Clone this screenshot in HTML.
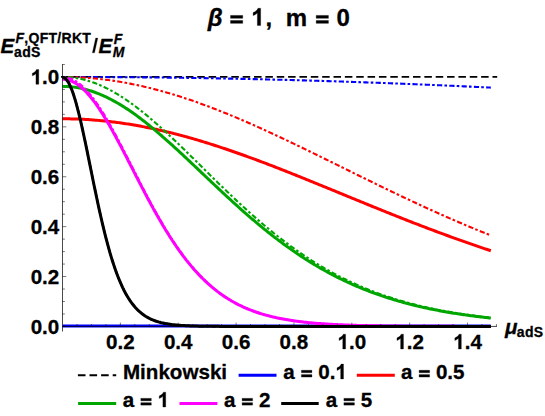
<!DOCTYPE html>
<html><head><meta charset="utf-8">
<style>
html,body{margin:0;padding:0;background:#fff;}
body{width:545px;height:416px;position:relative;overflow:hidden;font-family:"Liberation Sans",sans-serif;}
svg{display:block;}
</style></head><body>
<svg width="545" height="416" viewBox="0 0 545 416" style="position:absolute;left:0;top:0">
<g fill="none" stroke-linecap="butt" stroke-linejoin="round">
<path d="M61.00 76.95 L497.20 76.95" stroke="#000" stroke-width="1.7" stroke-dasharray="7.5 3.855"/>
<path d="M62.50 326.05 L63.93 326.05 L65.36 326.05 L66.80 326.05 L68.23 326.05 L69.66 326.05 L71.09 326.05 L72.53 326.05 L73.96 326.05 L75.39 326.05 L76.82 326.05 L78.26 326.05 L79.69 326.05 L81.12 326.05 L82.55 326.05 L83.99 326.05 L85.42 326.05 L86.85 326.05 L88.28 326.05 L89.72 326.05 L91.15 326.05 L92.58 326.05 L94.01 326.05 L95.45 326.05 L96.88 326.05 L98.31 326.05 L99.74 326.05 L101.18 326.05 L102.61 326.05 L104.04 326.05 L105.47 326.05 L106.91 326.05 L108.34 326.05 L109.77 326.05 L111.20 326.05 L112.64 326.05 L114.07 326.05 L115.50 326.05 L116.93 326.05 L118.37 326.05 L119.80 326.05 L121.23 326.05 L122.66 326.05 L124.10 326.05 L125.53 326.05 L126.96 326.05 L128.39 326.05 L129.83 326.05 L131.26 326.05 L132.69 326.05 L134.12 326.05 L135.56 326.05 L136.99 326.05 L138.42 326.05 L139.85 326.05 L141.29 326.05 L142.72 326.05 L144.15 326.05 L145.58 326.05 L147.02 326.05 L148.45 326.05 L149.88 326.05 L151.31 326.05 L152.75 326.05 L154.18 326.05 L155.61 326.05 L157.04 326.05 L158.48 326.05 L159.91 326.05 L161.34 326.05 L162.77 326.05 L164.21 326.05 L165.64 326.05 L167.07 326.05 L168.50 326.05 L169.94 326.05 L171.37 326.05 L172.80 326.05 L174.23 326.05 L175.67 326.05 L177.10 326.05 L178.53 326.05 L179.96 326.05 L181.40 326.05 L182.83 326.05 L184.26 326.05 L185.69 326.05 L187.12 326.05 L188.56 326.05 L189.99 326.05 L191.42 326.05 L192.85 326.05 L194.29 326.05 L195.72 326.05 L197.15 326.05 L198.58 326.05 L200.02 326.05 L201.45 326.05 L202.88 326.05 L204.31 326.05 L205.75 326.05 L207.18 326.05 L208.61 326.05 L210.04 326.05 L211.48 326.05 L212.91 326.05 L214.34 326.05 L215.77 326.05 L217.21 326.05 L218.64 326.05 L220.07 326.05 L221.50 326.05 L222.94 326.05 L224.37 326.05 L225.80 326.05 L227.23 326.05 L228.67 326.05 L230.10 326.05 L231.53 326.05 L232.96 326.05 L234.40 326.05 L235.83 326.05 L237.26 326.05 L238.69 326.05 L240.13 326.05 L241.56 326.05 L242.99 326.05 L244.42 326.05 L245.86 326.05 L247.29 326.05 L248.72 326.05 L250.15 326.05 L251.59 326.05 L253.02 326.05 L254.45 326.05 L255.88 326.05 L257.32 326.05 L258.75 326.05 L260.18 326.05 L261.61 326.05 L263.05 326.05 L264.48 326.05 L265.91 326.05 L267.34 326.05 L268.78 326.05 L270.21 326.05 L271.64 326.05 L273.07 326.05 L274.51 326.05 L275.94 326.05 L277.37 326.05 L278.80 326.05 L280.24 326.05 L281.67 326.05 L283.10 326.05 L284.53 326.05 L285.97 326.05 L287.40 326.05 L288.83 326.05 L290.26 326.05 L291.70 326.05 L293.13 326.05 L294.56 326.05 L295.99 326.05 L297.43 326.05 L298.86 326.05 L300.29 326.05 L301.72 326.05 L303.16 326.05 L304.59 326.05 L306.02 326.05 L307.45 326.05 L308.88 326.05 L310.32 326.05 L311.75 326.05 L313.18 326.05 L314.61 326.05 L316.05 326.05 L317.48 326.05 L318.91 326.05 L320.34 326.05 L321.78 326.05 L323.21 326.05 L324.64 326.05 L326.07 326.05 L327.51 326.05 L328.94 326.05 L330.37 326.05 L331.80 326.05 L333.24 326.05 L334.67 326.05 L336.10 326.05 L337.53 326.05 L338.97 326.05 L340.40 326.05 L341.83 326.05 L343.26 326.05 L344.70 326.05 L346.13 326.05 L347.56 326.05 L348.99 326.05 L350.43 326.05 L351.86 326.05 L353.29 326.06 L354.72 326.06 L356.16 326.06 L357.59 326.06 L359.02 326.06 L360.45 326.06 L361.89 326.06 L363.32 326.06 L364.75 326.06 L366.18 326.06 L367.62 326.06 L369.05 326.06 L370.48 326.06 L371.91 326.06 L373.35 326.06 L374.78 326.06 L376.21 326.06 L377.64 326.06 L379.08 326.06 L380.51 326.06 L381.94 326.06 L383.37 326.06 L384.81 326.06 L386.24 326.06 L387.67 326.06 L389.10 326.06 L390.54 326.06 L391.97 326.06 L393.40 326.06 L394.83 326.06 L396.27 326.06 L397.70 326.06 L399.13 326.06 L400.56 326.06 L402.00 326.06 L403.43 326.06 L404.86 326.06 L406.29 326.06 L407.73 326.06 L409.16 326.06 L410.59 326.06 L412.02 326.06 L413.46 326.06 L414.89 326.06 L416.32 326.06 L417.75 326.06 L419.19 326.06 L420.62 326.06 L422.05 326.06 L423.48 326.06 L424.92 326.06 L426.35 326.06 L427.78 326.06 L429.21 326.06 L430.64 326.06 L432.08 326.06 L433.51 326.06 L434.94 326.06 L436.37 326.06 L437.81 326.06 L439.24 326.06 L440.67 326.06 L442.10 326.06 L443.54 326.06 L444.97 326.06 L446.40 326.06 L447.83 326.06 L449.27 326.06 L450.70 326.06 L452.13 326.06 L453.56 326.06 L455.00 326.06 L456.43 326.06 L457.86 326.06 L459.29 326.06 L460.73 326.06 L462.16 326.06 L463.59 326.06 L465.02 326.06 L466.46 326.06 L467.89 326.06 L469.32 326.06 L470.75 326.06 L472.19 326.06 L473.62 326.06 L475.05 326.06 L476.48 326.06 L477.92 326.06 L479.35 326.06 L480.78 326.06 L482.21 326.06 L483.65 326.06 L485.08 326.06 L486.51 326.06 L487.94 326.06 L489.38 326.06 L490.81 326.06" stroke="#0000ff" stroke-width="3.0"/>
<path d="M62.50 76.95 L63.93 76.95 L65.36 76.95 L66.80 76.95 L68.23 76.95 L69.66 76.95 L71.09 76.95 L72.53 76.96 L73.96 76.96 L75.39 76.96 L76.82 76.96 L78.26 76.96 L79.69 76.97 L81.12 76.97 L82.55 76.97 L83.99 76.98 L85.42 76.98 L86.85 76.99 L88.28 76.99 L89.72 76.99 L91.15 77.00 L92.58 77.00 L94.01 77.01 L95.45 77.01 L96.88 77.02 L98.31 77.03 L99.74 77.03 L101.18 77.04 L102.61 77.05 L104.04 77.05 L105.47 77.06 L106.91 77.07 L108.34 77.08 L109.77 77.08 L111.20 77.09 L112.64 77.10 L114.07 77.11 L115.50 77.12 L116.93 77.13 L118.37 77.14 L119.80 77.15 L121.23 77.16 L122.66 77.17 L124.10 77.18 L125.53 77.19 L126.96 77.20 L128.39 77.21 L129.83 77.22 L131.26 77.23 L132.69 77.24 L134.12 77.26 L135.56 77.27 L136.99 77.28 L138.42 77.29 L139.85 77.31 L141.29 77.32 L142.72 77.33 L144.15 77.35 L145.58 77.36 L147.02 77.38 L148.45 77.39 L149.88 77.40 L151.31 77.42 L152.75 77.44 L154.18 77.45 L155.61 77.47 L157.04 77.48 L158.48 77.50 L159.91 77.51 L161.34 77.53 L162.77 77.55 L164.21 77.57 L165.64 77.58 L167.07 77.60 L168.50 77.62 L169.94 77.64 L171.37 77.66 L172.80 77.67 L174.23 77.69 L175.67 77.71 L177.10 77.73 L178.53 77.75 L179.96 77.77 L181.40 77.79 L182.83 77.81 L184.26 77.83 L185.69 77.85 L187.12 77.87 L188.56 77.90 L189.99 77.92 L191.42 77.94 L192.85 77.96 L194.29 77.98 L195.72 78.01 L197.15 78.03 L198.58 78.05 L200.02 78.07 L201.45 78.10 L202.88 78.12 L204.31 78.15 L205.75 78.17 L207.18 78.19 L208.61 78.22 L210.04 78.24 L211.48 78.27 L212.91 78.29 L214.34 78.32 L215.77 78.35 L217.21 78.37 L218.64 78.40 L220.07 78.43 L221.50 78.45 L222.94 78.48 L224.37 78.51 L225.80 78.53 L227.23 78.56 L228.67 78.59 L230.10 78.62 L231.53 78.65 L232.96 78.68 L234.40 78.70 L235.83 78.73 L237.26 78.76 L238.69 78.79 L240.13 78.82 L241.56 78.85 L242.99 78.88 L244.42 78.91 L245.86 78.95 L247.29 78.98 L248.72 79.01 L250.15 79.04 L251.59 79.07 L253.02 79.10 L254.45 79.14 L255.88 79.17 L257.32 79.20 L258.75 79.23 L260.18 79.27 L261.61 79.30 L263.05 79.33 L264.48 79.37 L265.91 79.40 L267.34 79.44 L268.78 79.47 L270.21 79.51 L271.64 79.54 L273.07 79.58 L274.51 79.61 L275.94 79.65 L277.37 79.69 L278.80 79.72 L280.24 79.76 L281.67 79.79 L283.10 79.83 L284.53 79.87 L285.97 79.91 L287.40 79.94 L288.83 79.98 L290.26 80.02 L291.70 80.06 L293.13 80.10 L294.56 80.14 L295.99 80.18 L297.43 80.22 L298.86 80.25 L300.29 80.29 L301.72 80.33 L303.16 80.38 L304.59 80.42 L306.02 80.46 L307.45 80.50 L308.88 80.54 L310.32 80.58 L311.75 80.62 L313.18 80.66 L314.61 80.71 L316.05 80.75 L317.48 80.79 L318.91 80.83 L320.34 80.88 L321.78 80.92 L323.21 80.96 L324.64 81.01 L326.07 81.05 L327.51 81.10 L328.94 81.14 L330.37 81.19 L331.80 81.23 L333.24 81.28 L334.67 81.32 L336.10 81.37 L337.53 81.41 L338.97 81.46 L340.40 81.51 L341.83 81.55 L343.26 81.60 L344.70 81.65 L346.13 81.69 L347.56 81.74 L348.99 81.79 L350.43 81.84 L351.86 81.88 L353.29 81.93 L354.72 81.98 L356.16 82.03 L357.59 82.08 L359.02 82.13 L360.45 82.18 L361.89 82.23 L363.32 82.28 L364.75 82.33 L366.18 82.38 L367.62 82.43 L369.05 82.48 L370.48 82.53 L371.91 82.58 L373.35 82.63 L374.78 82.69 L376.21 82.74 L377.64 82.79 L379.08 82.84 L380.51 82.90 L381.94 82.95 L383.37 83.00 L384.81 83.05 L386.24 83.11 L387.67 83.16 L389.10 83.22 L390.54 83.27 L391.97 83.33 L393.40 83.38 L394.83 83.43 L396.27 83.49 L397.70 83.55 L399.13 83.60 L400.56 83.66 L402.00 83.71 L403.43 83.77 L404.86 83.83 L406.29 83.88 L407.73 83.94 L409.16 84.00 L410.59 84.05 L412.02 84.11 L413.46 84.17 L414.89 84.23 L416.32 84.29 L417.75 84.34 L419.19 84.40 L420.62 84.46 L422.05 84.52 L423.48 84.58 L424.92 84.64 L426.35 84.70 L427.78 84.76 L429.21 84.82 L430.64 84.88 L432.08 84.94 L433.51 85.00 L434.94 85.06 L436.37 85.12 L437.81 85.19 L439.24 85.25 L440.67 85.31 L442.10 85.37 L443.54 85.43 L444.97 85.50 L446.40 85.56 L447.83 85.62 L449.27 85.69 L450.70 85.75 L452.13 85.81 L453.56 85.88 L455.00 85.94 L456.43 86.01 L457.86 86.07 L459.29 86.13 L460.73 86.20 L462.16 86.26 L463.59 86.33 L465.02 86.40 L466.46 86.46 L467.89 86.53 L469.32 86.59 L470.75 86.66 L472.19 86.73 L473.62 86.79 L475.05 86.86 L476.48 86.93 L477.92 87.00 L479.35 87.06 L480.78 87.13 L482.21 87.20 L483.65 87.27 L485.08 87.34 L486.51 87.41 L487.94 87.47 L489.38 87.54 L490.81 87.61" stroke="#0000ff" stroke-width="2.1" stroke-dasharray="5.2 2.2 2.6 2.295" stroke-dashoffset="6.5"/>
<path d="M62.50 118.80 L63.93 118.80 L65.36 118.81 L66.80 118.82 L68.23 118.84 L69.66 118.86 L71.09 118.89 L72.53 118.92 L73.96 118.96 L75.39 119.00 L76.82 119.05 L78.26 119.10 L79.69 119.16 L81.12 119.23 L82.55 119.30 L83.99 119.37 L85.42 119.45 L86.85 119.53 L88.28 119.62 L89.72 119.71 L91.15 119.81 L92.58 119.92 L94.01 120.02 L95.45 120.14 L96.88 120.26 L98.31 120.38 L99.74 120.51 L101.18 120.64 L102.61 120.78 L104.04 120.92 L105.47 121.07 L106.91 121.23 L108.34 121.38 L109.77 121.55 L111.20 121.72 L112.64 121.89 L114.07 122.07 L115.50 122.25 L116.93 122.44 L118.37 122.63 L119.80 122.82 L121.23 123.03 L122.66 123.23 L124.10 123.44 L125.53 123.66 L126.96 123.88 L128.39 124.10 L129.83 124.33 L131.26 124.57 L132.69 124.81 L134.12 125.05 L135.56 125.30 L136.99 125.55 L138.42 125.81 L139.85 126.07 L141.29 126.33 L142.72 126.60 L144.15 126.88 L145.58 127.16 L147.02 127.44 L148.45 127.73 L149.88 128.02 L151.31 128.32 L152.75 128.62 L154.18 128.92 L155.61 129.23 L157.04 129.55 L158.48 129.87 L159.91 130.19 L161.34 130.51 L162.77 130.84 L164.21 131.18 L165.64 131.52 L167.07 131.86 L168.50 132.21 L169.94 132.56 L171.37 132.91 L172.80 133.27 L174.23 133.63 L175.67 134.00 L177.10 134.37 L178.53 134.74 L179.96 135.12 L181.40 135.50 L182.83 135.89 L184.26 136.27 L185.69 136.67 L187.12 137.06 L188.56 137.46 L189.99 137.87 L191.42 138.27 L192.85 138.68 L194.29 139.10 L195.72 139.51 L197.15 139.93 L198.58 140.36 L200.02 140.79 L201.45 141.22 L202.88 141.65 L204.31 142.09 L205.75 142.53 L207.18 142.97 L208.61 143.42 L210.04 143.87 L211.48 144.32 L212.91 144.78 L214.34 145.24 L215.77 145.70 L217.21 146.16 L218.64 146.63 L220.07 147.10 L221.50 147.57 L222.94 148.05 L224.37 148.53 L225.80 149.01 L227.23 149.50 L228.67 149.98 L230.10 150.47 L231.53 150.97 L232.96 151.46 L234.40 151.96 L235.83 152.46 L237.26 152.96 L238.69 153.47 L240.13 153.97 L241.56 154.48 L242.99 154.99 L244.42 155.51 L245.86 156.02 L247.29 156.54 L248.72 157.06 L250.15 157.59 L251.59 158.11 L253.02 158.64 L254.45 159.17 L255.88 159.70 L257.32 160.23 L258.75 160.77 L260.18 161.31 L261.61 161.84 L263.05 162.39 L264.48 162.93 L265.91 163.47 L267.34 164.02 L268.78 164.57 L270.21 165.12 L271.64 165.67 L273.07 166.22 L274.51 166.77 L275.94 167.33 L277.37 167.89 L278.80 168.44 L280.24 169.00 L281.67 169.56 L283.10 170.13 L284.53 170.69 L285.97 171.26 L287.40 171.82 L288.83 172.39 L290.26 172.96 L291.70 173.53 L293.13 174.10 L294.56 174.67 L295.99 175.24 L297.43 175.82 L298.86 176.39 L300.29 176.97 L301.72 177.55 L303.16 178.12 L304.59 178.70 L306.02 179.28 L307.45 179.86 L308.88 180.44 L310.32 181.02 L311.75 181.60 L313.18 182.19 L314.61 182.77 L316.05 183.35 L317.48 183.94 L318.91 184.52 L320.34 185.11 L321.78 185.69 L323.21 186.28 L324.64 186.87 L326.07 187.45 L327.51 188.04 L328.94 188.63 L330.37 189.22 L331.80 189.80 L333.24 190.39 L334.67 190.98 L336.10 191.57 L337.53 192.16 L338.97 192.75 L340.40 193.33 L341.83 193.92 L343.26 194.51 L344.70 195.10 L346.13 195.69 L347.56 196.28 L348.99 196.86 L350.43 197.45 L351.86 198.04 L353.29 198.63 L354.72 199.22 L356.16 199.80 L357.59 200.39 L359.02 200.98 L360.45 201.56 L361.89 202.15 L363.32 202.73 L364.75 203.32 L366.18 203.90 L367.62 204.49 L369.05 205.07 L370.48 205.65 L371.91 206.24 L373.35 206.82 L374.78 207.40 L376.21 207.98 L377.64 208.56 L379.08 209.14 L380.51 209.72 L381.94 210.30 L383.37 210.87 L384.81 211.45 L386.24 212.02 L387.67 212.60 L389.10 213.17 L390.54 213.75 L391.97 214.32 L393.40 214.89 L394.83 215.46 L396.27 216.03 L397.70 216.60 L399.13 217.17 L400.56 217.73 L402.00 218.30 L403.43 218.86 L404.86 219.43 L406.29 219.99 L407.73 220.55 L409.16 221.11 L410.59 221.67 L412.02 222.23 L413.46 222.78 L414.89 223.34 L416.32 223.89 L417.75 224.45 L419.19 225.00 L420.62 225.55 L422.05 226.10 L423.48 226.65 L424.92 227.19 L426.35 227.74 L427.78 228.28 L429.21 228.83 L430.64 229.37 L432.08 229.91 L433.51 230.45 L434.94 230.98 L436.37 231.52 L437.81 232.05 L439.24 232.59 L440.67 233.12 L442.10 233.65 L443.54 234.17 L444.97 234.70 L446.40 235.23 L447.83 235.75 L449.27 236.27 L450.70 236.79 L452.13 237.31 L453.56 237.83 L455.00 238.35 L456.43 238.86 L457.86 239.37 L459.29 239.88 L460.73 240.39 L462.16 240.90 L463.59 241.41 L465.02 241.91 L466.46 242.42 L467.89 242.92 L469.32 243.42 L470.75 243.91 L472.19 244.41 L473.62 244.90 L475.05 245.40 L476.48 245.89 L477.92 246.38 L479.35 246.86 L480.78 247.35 L482.21 247.83 L483.65 248.32 L485.08 248.80 L486.51 249.27 L487.94 249.75 L489.38 250.23 L490.81 250.70" stroke="#ff0000" stroke-width="3.0"/>
<path d="M62.50 76.95 L63.93 76.95 L65.36 76.96 L66.80 76.98 L68.23 77.00 L69.66 77.03 L71.09 77.06 L72.53 77.10 L73.96 77.15 L75.39 77.20 L76.82 77.26 L78.26 77.32 L79.69 77.39 L81.12 77.47 L82.55 77.55 L83.99 77.64 L85.42 77.73 L86.85 77.83 L88.28 77.94 L89.72 78.05 L91.15 78.17 L92.58 78.29 L94.01 78.43 L95.45 78.56 L96.88 78.70 L98.31 78.85 L99.74 79.01 L101.18 79.17 L102.61 79.33 L104.04 79.51 L105.47 79.69 L106.91 79.87 L108.34 80.06 L109.77 80.25 L111.20 80.46 L112.64 80.66 L114.07 80.88 L115.50 81.10 L116.93 81.32 L118.37 81.55 L119.80 81.79 L121.23 82.03 L122.66 82.28 L124.10 82.53 L125.53 82.79 L126.96 83.05 L128.39 83.33 L129.83 83.60 L131.26 83.88 L132.69 84.17 L134.12 84.46 L135.56 84.76 L136.99 85.06 L138.42 85.37 L139.85 85.69 L141.29 86.01 L142.72 86.33 L144.15 86.66 L145.58 87.00 L147.02 87.34 L148.45 87.68 L149.88 88.03 L151.31 88.39 L152.75 88.75 L154.18 89.12 L155.61 89.49 L157.04 89.87 L158.48 90.25 L159.91 90.64 L161.34 91.03 L162.77 91.43 L164.21 91.83 L165.64 92.23 L167.07 92.65 L168.50 93.06 L169.94 93.48 L171.37 93.91 L172.80 94.34 L174.23 94.77 L175.67 95.21 L177.10 95.66 L178.53 96.11 L179.96 96.56 L181.40 97.02 L182.83 97.48 L184.26 97.95 L185.69 98.42 L187.12 98.90 L188.56 99.38 L189.99 99.86 L191.42 100.35 L192.85 100.84 L194.29 101.34 L195.72 101.84 L197.15 102.35 L198.58 102.86 L200.02 103.37 L201.45 103.89 L202.88 104.41 L204.31 104.93 L205.75 105.46 L207.18 106.00 L208.61 106.53 L210.04 107.07 L211.48 107.62 L212.91 108.16 L214.34 108.72 L215.77 109.27 L217.21 109.83 L218.64 110.39 L220.07 110.96 L221.50 111.53 L222.94 112.10 L224.37 112.67 L225.80 113.25 L227.23 113.84 L228.67 114.42 L230.10 115.01 L231.53 115.60 L232.96 116.20 L234.40 116.79 L235.83 117.39 L237.26 118.00 L238.69 118.60 L240.13 119.21 L241.56 119.83 L242.99 120.44 L244.42 121.06 L245.86 121.68 L247.29 122.30 L248.72 122.93 L250.15 123.56 L251.59 124.19 L253.02 124.82 L254.45 125.46 L255.88 126.10 L257.32 126.74 L258.75 127.38 L260.18 128.03 L261.61 128.67 L263.05 129.32 L264.48 129.97 L265.91 130.63 L267.34 131.28 L268.78 131.94 L270.21 132.60 L271.64 133.26 L273.07 133.93 L274.51 134.59 L275.94 135.26 L277.37 135.93 L278.80 136.60 L280.24 137.27 L281.67 137.95 L283.10 138.62 L284.53 139.30 L285.97 139.98 L287.40 140.66 L288.83 141.34 L290.26 142.03 L291.70 142.71 L293.13 143.40 L294.56 144.08 L295.99 144.77 L297.43 145.46 L298.86 146.15 L300.29 146.85 L301.72 147.54 L303.16 148.23 L304.59 148.93 L306.02 149.62 L307.45 150.32 L308.88 151.02 L310.32 151.72 L311.75 152.42 L313.18 153.12 L314.61 153.82 L316.05 154.52 L317.48 155.22 L318.91 155.92 L320.34 156.63 L321.78 157.33 L323.21 158.03 L324.64 158.74 L326.07 159.44 L327.51 160.15 L328.94 160.85 L330.37 161.56 L331.80 162.27 L333.24 162.97 L334.67 163.68 L336.10 164.39 L337.53 165.09 L338.97 165.80 L340.40 166.51 L341.83 167.22 L343.26 167.92 L344.70 168.63 L346.13 169.34 L347.56 170.04 L348.99 170.75 L350.43 171.46 L351.86 172.16 L353.29 172.87 L354.72 173.58 L356.16 174.28 L357.59 174.99 L359.02 175.69 L360.45 176.39 L361.89 177.10 L363.32 177.80 L364.75 178.50 L366.18 179.21 L367.62 179.91 L369.05 180.61 L370.48 181.31 L371.91 182.01 L373.35 182.71 L374.78 183.41 L376.21 184.11 L377.64 184.80 L379.08 185.50 L380.51 186.19 L381.94 186.89 L383.37 187.58 L384.81 188.27 L386.24 188.97 L387.67 189.66 L389.10 190.35 L390.54 191.03 L391.97 191.72 L393.40 192.41 L394.83 193.09 L396.27 193.78 L397.70 194.46 L399.13 195.14 L400.56 195.82 L402.00 196.50 L403.43 197.18 L404.86 197.86 L406.29 198.53 L407.73 199.21 L409.16 199.88 L410.59 200.55 L412.02 201.22 L413.46 201.89 L414.89 202.56 L416.32 203.23 L417.75 203.89 L419.19 204.55 L420.62 205.22 L422.05 205.88 L423.48 206.53 L424.92 207.19 L426.35 207.85 L427.78 208.50 L429.21 209.15 L430.64 209.80 L432.08 210.45 L433.51 211.10 L434.94 211.74 L436.37 212.39 L437.81 213.03 L439.24 213.67 L440.67 214.31 L442.10 214.94 L443.54 215.58 L444.97 216.21 L446.40 216.84 L447.83 217.47 L449.27 218.10 L450.70 218.73 L452.13 219.35 L453.56 219.97 L455.00 220.59 L456.43 221.21 L457.86 221.83 L459.29 222.44 L460.73 223.05 L462.16 223.66 L463.59 224.27 L465.02 224.88 L466.46 225.48 L467.89 226.08 L469.32 226.68 L470.75 227.28 L472.19 227.88 L473.62 228.47 L475.05 229.06 L476.48 229.65 L477.92 230.24 L479.35 230.83 L480.78 231.41 L482.21 231.99 L483.65 232.57 L485.08 233.15 L486.51 233.72 L487.94 234.29 L489.38 234.86 L490.81 235.43" stroke="#ff0000" stroke-width="2.1" stroke-dasharray="5.2 2.2 2.6 2.295" stroke-dashoffset="6.5"/>
<path d="M62.50 86.37 L63.93 86.38 L65.36 86.41 L66.80 86.47 L68.23 86.56 L69.66 86.66 L71.09 86.79 L72.53 86.94 L73.96 87.12 L75.39 87.32 L76.82 87.54 L78.26 87.79 L79.69 88.06 L81.12 88.35 L82.55 88.66 L83.99 89.00 L85.42 89.36 L86.85 89.74 L88.28 90.15 L89.72 90.57 L91.15 91.02 L92.58 91.49 L94.01 91.99 L95.45 92.50 L96.88 93.04 L98.31 93.60 L99.74 94.17 L101.18 94.77 L102.61 95.39 L104.04 96.03 L105.47 96.69 L106.91 97.38 L108.34 98.08 L109.77 98.80 L111.20 99.54 L112.64 100.30 L114.07 101.07 L115.50 101.87 L116.93 102.69 L118.37 103.52 L119.80 104.37 L121.23 105.24 L122.66 106.13 L124.10 107.03 L125.53 107.95 L126.96 108.88 L128.39 109.84 L129.83 110.81 L131.26 111.79 L132.69 112.79 L134.12 113.80 L135.56 114.83 L136.99 115.88 L138.42 116.93 L139.85 118.01 L141.29 119.09 L142.72 120.19 L144.15 121.30 L145.58 122.42 L147.02 123.56 L148.45 124.71 L149.88 125.87 L151.31 127.04 L152.75 128.22 L154.18 129.41 L155.61 130.61 L157.04 131.82 L158.48 133.04 L159.91 134.28 L161.34 135.51 L162.77 136.76 L164.21 138.02 L165.64 139.28 L167.07 140.56 L168.50 141.84 L169.94 143.12 L171.37 144.41 L172.80 145.71 L174.23 147.02 L175.67 148.33 L177.10 149.65 L178.53 150.97 L179.96 152.29 L181.40 153.62 L182.83 154.96 L184.26 156.30 L185.69 157.64 L187.12 158.98 L188.56 160.33 L189.99 161.68 L191.42 163.04 L192.85 164.39 L194.29 165.75 L195.72 167.10 L197.15 168.46 L198.58 169.82 L200.02 171.18 L201.45 172.55 L202.88 173.91 L204.31 175.27 L205.75 176.63 L207.18 177.99 L208.61 179.35 L210.04 180.70 L211.48 182.06 L212.91 183.41 L214.34 184.76 L215.77 186.11 L217.21 187.46 L218.64 188.81 L220.07 190.15 L221.50 191.49 L222.94 192.82 L224.37 194.15 L225.80 195.48 L227.23 196.81 L228.67 198.13 L230.10 199.44 L231.53 200.75 L232.96 202.06 L234.40 203.36 L235.83 204.66 L237.26 205.95 L238.69 207.24 L240.13 208.52 L241.56 209.79 L242.99 211.06 L244.42 212.32 L245.86 213.58 L247.29 214.83 L248.72 216.07 L250.15 217.31 L251.59 218.54 L253.02 219.76 L254.45 220.98 L255.88 222.19 L257.32 223.39 L258.75 224.59 L260.18 225.77 L261.61 226.95 L263.05 228.13 L264.48 229.29 L265.91 230.45 L267.34 231.60 L268.78 232.74 L270.21 233.87 L271.64 235.00 L273.07 236.11 L274.51 237.22 L275.94 238.32 L277.37 239.41 L278.80 240.50 L280.24 241.57 L281.67 242.64 L283.10 243.69 L284.53 244.74 L285.97 245.78 L287.40 246.81 L288.83 247.84 L290.26 248.85 L291.70 249.86 L293.13 250.85 L294.56 251.84 L295.99 252.82 L297.43 253.79 L298.86 254.75 L300.29 255.70 L301.72 256.64 L303.16 257.58 L304.59 258.50 L306.02 259.42 L307.45 260.33 L308.88 261.23 L310.32 262.11 L311.75 263.00 L313.18 263.87 L314.61 264.73 L316.05 265.58 L317.48 266.43 L318.91 267.26 L320.34 268.09 L321.78 268.91 L323.21 269.72 L324.64 270.52 L326.07 271.31 L327.51 272.10 L328.94 272.87 L330.37 273.64 L331.80 274.40 L333.24 275.15 L334.67 275.89 L336.10 276.62 L337.53 277.34 L338.97 278.06 L340.40 278.77 L341.83 279.47 L343.26 280.16 L344.70 280.84 L346.13 281.51 L347.56 282.18 L348.99 282.84 L350.43 283.49 L351.86 284.13 L353.29 284.77 L354.72 285.39 L356.16 286.01 L357.59 286.62 L359.02 287.23 L360.45 287.82 L361.89 288.41 L363.32 288.99 L364.75 289.56 L366.18 290.13 L367.62 290.69 L369.05 291.24 L370.48 291.78 L371.91 292.32 L373.35 292.85 L374.78 293.37 L376.21 293.89 L377.64 294.40 L379.08 294.90 L380.51 295.40 L381.94 295.89 L383.37 296.37 L384.81 296.84 L386.24 297.31 L387.67 297.78 L389.10 298.23 L390.54 298.68 L391.97 299.13 L393.40 299.56 L394.83 299.99 L396.27 300.42 L397.70 300.84 L399.13 301.25 L400.56 301.66 L402.00 302.06 L403.43 302.46 L404.86 302.85 L406.29 303.23 L407.73 303.61 L409.16 303.98 L410.59 304.35 L412.02 304.71 L413.46 305.07 L414.89 305.42 L416.32 305.77 L417.75 306.11 L419.19 306.45 L420.62 306.78 L422.05 307.11 L423.48 307.43 L424.92 307.75 L426.35 308.06 L427.78 308.37 L429.21 308.67 L430.64 308.97 L432.08 309.26 L433.51 309.55 L434.94 309.83 L436.37 310.11 L437.81 310.39 L439.24 310.66 L440.67 310.93 L442.10 311.19 L443.54 311.45 L444.97 311.71 L446.40 311.96 L447.83 312.21 L449.27 312.45 L450.70 312.69 L452.13 312.92 L453.56 313.16 L455.00 313.39 L456.43 313.61 L457.86 313.83 L459.29 314.05 L460.73 314.26 L462.16 314.47 L463.59 314.68 L465.02 314.89 L466.46 315.09 L467.89 315.28 L469.32 315.48 L470.75 315.67 L472.19 315.86 L473.62 316.04 L475.05 316.22 L476.48 316.40 L477.92 316.58 L479.35 316.75 L480.78 316.92 L482.21 317.09 L483.65 317.25 L485.08 317.42 L486.51 317.58 L487.94 317.73 L489.38 317.89 L490.81 318.04" stroke="#00a600" stroke-width="3.0"/>
<path d="M62.50 76.95 L63.93 76.96 L65.36 77.00 L66.80 77.06 L68.23 77.15 L69.66 77.26 L71.09 77.39 L72.53 77.55 L73.96 77.73 L75.39 77.94 L76.82 78.17 L78.26 78.43 L79.69 78.70 L81.12 79.01 L82.55 79.33 L83.99 79.69 L85.42 80.06 L86.85 80.46 L88.28 80.88 L89.72 81.32 L91.15 81.79 L92.58 82.28 L94.01 82.79 L95.45 83.33 L96.88 83.88 L98.31 84.46 L99.74 85.06 L101.18 85.69 L102.61 86.33 L104.04 87.00 L105.47 87.68 L106.91 88.39 L108.34 89.12 L109.77 89.87 L111.20 90.64 L112.64 91.43 L114.07 92.23 L115.50 93.06 L116.93 93.91 L118.37 94.77 L119.80 95.66 L121.23 96.56 L122.66 97.48 L124.10 98.42 L125.53 99.38 L126.96 100.35 L128.39 101.34 L129.83 102.35 L131.26 103.37 L132.69 104.41 L134.12 105.46 L135.56 106.53 L136.99 107.62 L138.42 108.72 L139.85 109.83 L141.29 110.96 L142.72 112.10 L144.15 113.25 L145.58 114.42 L147.02 115.60 L148.45 116.79 L149.88 118.00 L151.31 119.21 L152.75 120.44 L154.18 121.68 L155.61 122.93 L157.04 124.19 L158.48 125.46 L159.91 126.74 L161.34 128.03 L162.77 129.32 L164.21 130.63 L165.64 131.94 L167.07 133.26 L168.50 134.59 L169.94 135.93 L171.37 137.27 L172.80 138.62 L174.23 139.98 L175.67 141.34 L177.10 142.71 L178.53 144.08 L179.96 145.46 L181.40 146.85 L182.83 148.23 L184.26 149.62 L185.69 151.02 L187.12 152.42 L188.56 153.82 L189.99 155.22 L191.42 156.63 L192.85 158.03 L194.29 159.44 L195.72 160.85 L197.15 162.27 L198.58 163.68 L200.02 165.09 L201.45 166.51 L202.88 167.92 L204.31 169.34 L205.75 170.75 L207.18 172.16 L208.61 173.58 L210.04 174.99 L211.48 176.39 L212.91 177.80 L214.34 179.21 L215.77 180.61 L217.21 182.01 L218.64 183.41 L220.07 184.80 L221.50 186.19 L222.94 187.58 L224.37 188.97 L225.80 190.35 L227.23 191.72 L228.67 193.09 L230.10 194.46 L231.53 195.82 L232.96 197.18 L234.40 198.53 L235.83 199.88 L237.26 201.22 L238.69 202.56 L240.13 203.89 L241.56 205.22 L242.99 206.53 L244.42 207.85 L245.86 209.15 L247.29 210.45 L248.72 211.74 L250.15 213.03 L251.59 214.31 L253.02 215.58 L254.45 216.84 L255.88 218.10 L257.32 219.35 L258.75 220.59 L260.18 221.83 L261.61 223.05 L263.05 224.27 L264.48 225.48 L265.91 226.68 L267.34 227.88 L268.78 229.06 L270.21 230.24 L271.64 231.41 L273.07 232.57 L274.51 233.72 L275.94 234.86 L277.37 236.00 L278.80 237.12 L280.24 238.24 L281.67 239.35 L283.10 240.45 L284.53 241.54 L285.97 242.62 L287.40 243.69 L288.83 244.75 L290.26 245.81 L291.70 246.85 L293.13 247.89 L294.56 248.91 L295.99 249.93 L297.43 250.94 L298.86 251.94 L300.29 252.93 L301.72 253.91 L303.16 254.88 L304.59 255.84 L306.02 256.79 L307.45 257.73 L308.88 258.67 L310.32 259.59 L311.75 260.51 L313.18 261.41 L314.61 262.31 L316.05 263.20 L317.48 264.07 L318.91 264.94 L320.34 265.80 L321.78 266.65 L323.21 267.50 L324.64 268.33 L326.07 269.15 L327.51 269.97 L328.94 270.77 L330.37 271.57 L331.80 272.36 L333.24 273.13 L334.67 273.90 L336.10 274.67 L337.53 275.42 L338.97 276.16 L340.40 276.90 L341.83 277.62 L343.26 278.34 L344.70 279.05 L346.13 279.75 L347.56 280.44 L348.99 281.13 L350.43 281.80 L351.86 282.47 L353.29 283.13 L354.72 283.78 L356.16 284.42 L357.59 285.06 L359.02 285.69 L360.45 286.31 L361.89 286.92 L363.32 287.52 L364.75 288.12 L366.18 288.71 L367.62 289.29 L369.05 289.86 L370.48 290.42 L371.91 290.98 L373.35 291.53 L374.78 292.08 L376.21 292.61 L377.64 293.14 L379.08 293.66 L380.51 294.18 L381.94 294.69 L383.37 295.19 L384.81 295.68 L386.24 296.17 L387.67 296.65 L389.10 297.12 L390.54 297.59 L391.97 298.05 L393.40 298.51 L394.83 298.96 L396.27 299.40 L397.70 299.83 L399.13 300.26 L400.56 300.69 L402.00 301.10 L403.43 301.52 L404.86 301.92 L406.29 302.32 L407.73 302.71 L409.16 303.10 L410.59 303.48 L412.02 303.86 L413.46 304.23 L414.89 304.60 L416.32 304.96 L417.75 305.31 L419.19 305.66 L420.62 306.01 L422.05 306.35 L423.48 306.68 L424.92 307.01 L426.35 307.34 L427.78 307.66 L429.21 307.97 L430.64 308.28 L432.08 308.59 L433.51 308.89 L434.94 309.18 L436.37 309.47 L437.81 309.76 L439.24 310.04 L440.67 310.32 L442.10 310.59 L443.54 310.86 L444.97 311.13 L446.40 311.39 L447.83 311.65 L449.27 311.90 L450.70 312.15 L452.13 312.39 L453.56 312.64 L455.00 312.87 L456.43 313.11 L457.86 313.34 L459.29 313.56 L460.73 313.79 L462.16 314.00 L463.59 314.22 L465.02 314.43 L466.46 314.64 L467.89 314.85 L469.32 315.05 L470.75 315.25 L472.19 315.44 L473.62 315.63 L475.05 315.82 L476.48 316.01 L477.92 316.19 L479.35 316.37 L480.78 316.55 L482.21 316.72 L483.65 316.89 L485.08 317.06 L486.51 317.23 L487.94 317.39 L489.38 317.55 L490.81 317.71" stroke="#00a600" stroke-width="2.1" stroke-dasharray="5.2 2.2 2.6 2.295" stroke-dashoffset="6.5"/>
<path d="M62.50 79.23 L63.93 79.28 L65.36 79.43 L66.80 79.67 L68.23 80.01 L69.66 80.44 L71.09 80.97 L72.53 81.59 L73.96 82.31 L75.39 83.12 L76.82 84.03 L78.26 85.02 L79.69 86.10 L81.12 87.27 L82.55 88.53 L83.99 89.87 L85.42 91.29 L86.85 92.79 L88.28 94.38 L89.72 96.04 L91.15 97.77 L92.58 99.58 L94.01 101.45 L95.45 103.40 L96.88 105.41 L98.31 107.48 L99.74 109.62 L101.18 111.81 L102.61 114.06 L104.04 116.36 L105.47 118.71 L106.91 121.11 L108.34 123.55 L109.77 126.04 L111.20 128.56 L112.64 131.13 L114.07 133.72 L115.50 136.35 L116.93 139.00 L118.37 141.69 L119.80 144.39 L121.23 147.12 L122.66 149.86 L124.10 152.62 L125.53 155.39 L126.96 158.18 L128.39 160.97 L129.83 163.77 L131.26 166.57 L132.69 169.37 L134.12 172.17 L135.56 174.97 L136.99 177.77 L138.42 180.55 L139.85 183.33 L141.29 186.10 L142.72 188.85 L144.15 191.59 L145.58 194.31 L147.02 197.02 L148.45 199.70 L149.88 202.37 L151.31 205.01 L152.75 207.63 L154.18 210.22 L155.61 212.79 L157.04 215.33 L158.48 217.85 L159.91 220.33 L161.34 222.78 L162.77 225.20 L164.21 227.60 L165.64 229.95 L167.07 232.28 L168.50 234.57 L169.94 236.83 L171.37 239.05 L172.80 241.23 L174.23 243.39 L175.67 245.50 L177.10 247.58 L178.53 249.62 L179.96 251.63 L181.40 253.60 L182.83 255.53 L184.26 257.43 L185.69 259.29 L187.12 261.11 L188.56 262.89 L189.99 264.64 L191.42 266.36 L192.85 268.03 L194.29 269.68 L195.72 271.28 L197.15 272.85 L198.58 274.38 L200.02 275.88 L201.45 277.35 L202.88 278.78 L204.31 280.18 L205.75 281.54 L207.18 282.87 L208.61 284.17 L210.04 285.44 L211.48 286.67 L212.91 287.88 L214.34 289.05 L215.77 290.19 L217.21 291.31 L218.64 292.39 L220.07 293.45 L221.50 294.47 L222.94 295.47 L224.37 296.45 L225.80 297.39 L227.23 298.31 L228.67 299.21 L230.10 300.08 L231.53 300.92 L232.96 301.74 L234.40 302.54 L235.83 303.32 L237.26 304.07 L238.69 304.80 L240.13 305.51 L241.56 306.20 L242.99 306.86 L244.42 307.51 L245.86 308.14 L247.29 308.75 L248.72 309.34 L250.15 309.91 L251.59 310.47 L253.02 311.01 L254.45 311.53 L255.88 312.03 L257.32 312.52 L258.75 313.00 L260.18 313.46 L261.61 313.90 L263.05 314.33 L264.48 314.75 L265.91 315.15 L267.34 315.54 L268.78 315.92 L270.21 316.29 L271.64 316.64 L273.07 316.98 L274.51 317.31 L275.94 317.63 L277.37 317.94 L278.80 318.24 L280.24 318.53 L281.67 318.81 L283.10 319.08 L284.53 319.34 L285.97 319.59 L287.40 319.84 L288.83 320.07 L290.26 320.30 L291.70 320.52 L293.13 320.73 L294.56 320.94 L295.99 321.13 L297.43 321.33 L298.86 321.51 L300.29 321.69 L301.72 321.86 L303.16 322.03 L304.59 322.19 L306.02 322.34 L307.45 322.49 L308.88 322.63 L310.32 322.77 L311.75 322.91 L313.18 323.04 L314.61 323.16 L316.05 323.28 L317.48 323.40 L318.91 323.51 L320.34 323.62 L321.78 323.72 L323.21 323.82 L324.64 323.92 L326.07 324.01 L327.51 324.10 L328.94 324.19 L330.37 324.27 L331.80 324.35 L333.24 324.43 L334.67 324.51 L336.10 324.58 L337.53 324.65 L338.97 324.71 L340.40 324.78 L341.83 324.84 L343.26 324.90 L344.70 324.96 L346.13 325.01 L347.56 325.07 L348.99 325.12 L350.43 325.17 L351.86 325.22 L353.29 325.26 L354.72 325.31 L356.16 325.35 L357.59 325.39 L359.02 325.43 L360.45 325.47 L361.89 325.51 L363.32 325.54 L364.75 325.58 L366.18 325.61 L367.62 325.64 L369.05 325.67 L370.48 325.70 L371.91 325.73 L373.35 325.76 L374.78 325.78 L376.21 325.81 L377.64 325.83 L379.08 325.86 L380.51 325.88 L381.94 325.90 L383.37 325.92 L384.81 325.94 L386.24 325.96 L387.67 325.98 L389.10 326.00 L390.54 326.01 L391.97 326.03 L393.40 326.05 L394.83 326.06 L396.27 326.08 L397.70 326.09 L399.13 326.10 L400.56 326.12 L402.00 326.13 L403.43 326.14 L404.86 326.15 L406.29 326.17 L407.73 326.18 L409.16 326.19 L410.59 326.20 L412.02 326.21 L413.46 326.22 L414.89 326.23 L416.32 326.23 L417.75 326.24 L419.19 326.25 L420.62 326.26 L422.05 326.27 L423.48 326.27 L424.92 326.28 L426.35 326.29 L427.78 326.29 L429.21 326.30 L430.64 326.30 L432.08 326.31 L433.51 326.31 L434.94 326.32 L436.37 326.32 L437.81 326.33 L439.24 326.33 L440.67 326.34 L442.10 326.34 L443.54 326.35 L444.97 326.35 L446.40 326.35 L447.83 326.36 L449.27 326.36 L450.70 326.37 L452.13 326.37 L453.56 326.37 L455.00 326.37 L456.43 326.38 L457.86 326.38 L459.29 326.38 L460.73 326.39 L462.16 326.39 L463.59 326.39 L465.02 326.39 L466.46 326.40 L467.89 326.40 L469.32 326.40 L470.75 326.40 L472.19 326.40 L473.62 326.40 L475.05 326.41 L476.48 326.41 L477.92 326.41 L479.35 326.41 L480.78 326.41 L482.21 326.41 L483.65 326.42 L485.08 326.42 L486.51 326.42 L487.94 326.42 L489.38 326.42 L490.81 326.42" stroke="#ff00ff" stroke-width="3.0"/>
<path d="M62.50 76.95 L63.93 77.00 L65.36 77.15 L66.80 77.39 L68.23 77.73 L69.66 78.17 L71.09 78.70 L72.53 79.33 L73.96 80.06 L75.39 80.88 L76.82 81.79 L78.26 82.79 L79.69 83.88 L81.12 85.06 L82.55 86.33 L83.99 87.68 L85.42 89.12 L86.85 90.64 L88.28 92.23 L89.72 93.91 L91.15 95.66 L92.58 97.48 L94.01 99.38 L95.45 101.34 L96.88 103.37 L98.31 105.46 L99.74 107.62 L101.18 109.83 L102.61 112.10 L104.04 114.42 L105.47 116.79 L106.91 119.21 L108.34 121.68 L109.77 124.19 L111.20 126.74 L112.64 129.32 L114.07 131.94 L115.50 134.59 L116.93 137.27 L118.37 139.98 L119.80 142.71 L121.23 145.46 L122.66 148.23 L124.10 151.02 L125.53 153.82 L126.96 156.63 L128.39 159.44 L129.83 162.27 L131.26 165.09 L132.69 167.92 L134.12 170.75 L135.56 173.58 L136.99 176.39 L138.42 179.21 L139.85 182.01 L141.29 184.80 L142.72 187.58 L144.15 190.35 L145.58 193.09 L147.02 195.82 L148.45 198.53 L149.88 201.22 L151.31 203.89 L152.75 206.53 L154.18 209.15 L155.61 211.74 L157.04 214.31 L158.48 216.84 L159.91 219.35 L161.34 221.83 L162.77 224.27 L164.21 226.68 L165.64 229.06 L167.07 231.41 L168.50 233.72 L169.94 236.00 L171.37 238.24 L172.80 240.45 L174.23 242.62 L175.67 244.75 L177.10 246.85 L178.53 248.91 L179.96 250.94 L181.40 252.93 L182.83 254.88 L184.26 256.79 L185.69 258.67 L187.12 260.51 L188.56 262.31 L189.99 264.07 L191.42 265.80 L192.85 267.50 L194.29 269.15 L195.72 270.77 L197.15 272.36 L198.58 273.90 L200.02 275.42 L201.45 276.90 L202.88 278.34 L204.31 279.75 L205.75 281.13 L207.18 282.47 L208.61 283.78 L210.04 285.06 L211.48 286.31 L212.91 287.52 L214.34 288.71 L215.77 289.86 L217.21 290.98 L218.64 292.08 L220.07 293.14 L221.50 294.18 L222.94 295.19 L224.37 296.17 L225.80 297.12 L227.23 298.05 L228.67 298.96 L230.10 299.83 L231.53 300.69 L232.96 301.52 L234.40 302.32 L235.83 303.10 L237.26 303.86 L238.69 304.60 L240.13 305.31 L241.56 306.01 L242.99 306.68 L244.42 307.34 L245.86 307.97 L247.29 308.59 L248.72 309.18 L250.15 309.76 L251.59 310.32 L253.02 310.86 L254.45 311.39 L255.88 311.90 L257.32 312.39 L258.75 312.87 L260.18 313.34 L261.61 313.79 L263.05 314.22 L264.48 314.64 L265.91 315.05 L267.34 315.44 L268.78 315.82 L270.21 316.19 L271.64 316.55 L273.07 316.89 L274.51 317.23 L275.94 317.55 L277.37 317.86 L278.80 318.16 L280.24 318.46 L281.67 318.74 L283.10 319.01 L284.53 319.27 L285.97 319.53 L287.40 319.78 L288.83 320.01 L290.26 320.24 L291.70 320.46 L293.13 320.68 L294.56 320.89 L295.99 321.09 L297.43 321.28 L298.86 321.46 L300.29 321.64 L301.72 321.82 L303.16 321.99 L304.59 322.15 L306.02 322.30 L307.45 322.45 L308.88 322.60 L310.32 322.74 L311.75 322.87 L313.18 323.01 L314.61 323.13 L316.05 323.25 L317.48 323.37 L318.91 323.48 L320.34 323.59 L321.78 323.70 L323.21 323.80 L324.64 323.90 L326.07 323.99 L327.51 324.08 L328.94 324.17 L330.37 324.25 L331.80 324.33 L333.24 324.41 L334.67 324.49 L336.10 324.56 L337.53 324.63 L338.97 324.70 L340.40 324.76 L341.83 324.83 L343.26 324.89 L344.70 324.95 L346.13 325.00 L347.56 325.06 L348.99 325.11 L350.43 325.16 L351.86 325.21 L353.29 325.25 L354.72 325.30 L356.16 325.34 L357.59 325.38 L359.02 325.42 L360.45 325.46 L361.89 325.50 L363.32 325.53 L364.75 325.57 L366.18 325.60 L367.62 325.63 L369.05 325.67 L370.48 325.69 L371.91 325.72 L373.35 325.75 L374.78 325.78 L376.21 325.80 L377.64 325.83 L379.08 325.85 L380.51 325.87 L381.94 325.90 L383.37 325.92 L384.81 325.94 L386.24 325.96 L387.67 325.97 L389.10 325.99 L390.54 326.01 L391.97 326.03 L393.40 326.04 L394.83 326.06 L396.27 326.07 L397.70 326.09 L399.13 326.10 L400.56 326.11 L402.00 326.13 L403.43 326.14 L404.86 326.15 L406.29 326.16 L407.73 326.17 L409.16 326.18 L410.59 326.19 L412.02 326.20 L413.46 326.21 L414.89 326.22 L416.32 326.23 L417.75 326.24 L419.19 326.25 L420.62 326.26 L422.05 326.26 L423.48 326.27 L424.92 326.28 L426.35 326.28 L427.78 326.29 L429.21 326.30 L430.64 326.30 L432.08 326.31 L433.51 326.31 L434.94 326.32 L436.37 326.32 L437.81 326.33 L439.24 326.33 L440.67 326.34 L442.10 326.34 L443.54 326.35 L444.97 326.35 L446.40 326.35 L447.83 326.36 L449.27 326.36 L450.70 326.36 L452.13 326.37 L453.56 326.37 L455.00 326.37 L456.43 326.38 L457.86 326.38 L459.29 326.38 L460.73 326.39 L462.16 326.39 L463.59 326.39 L465.02 326.39 L466.46 326.39 L467.89 326.40 L469.32 326.40 L470.75 326.40 L472.19 326.40 L473.62 326.40 L475.05 326.41 L476.48 326.41 L477.92 326.41 L479.35 326.41 L480.78 326.41 L482.21 326.41 L483.65 326.42 L485.08 326.42 L486.51 326.42 L487.94 326.42 L489.38 326.42 L490.81 326.42" stroke="#ff00ff" stroke-width="2.1" stroke-dasharray="5.2 2.2 2.6 2.295" stroke-dashoffset="6.5"/>
<path d="M62.50 77.31 L63.93 77.62 L65.36 78.53 L66.80 80.04 L68.23 82.14 L69.66 84.81 L71.09 88.03 L72.53 91.77 L73.96 95.99 L75.39 100.68 L76.82 105.78 L78.26 111.27 L79.69 117.10 L81.12 123.22 L82.55 129.61 L83.99 136.21 L85.42 142.98 L86.85 149.88 L88.28 156.87 L89.72 163.92 L91.15 170.98 L92.58 178.02 L94.01 185.01 L95.45 191.92 L96.88 198.72 L98.31 205.39 L99.74 211.91 L101.18 218.26 L102.61 224.42 L104.04 230.38 L105.47 236.13 L106.91 241.66 L108.34 246.97 L109.77 252.05 L111.20 256.89 L112.64 261.51 L114.07 265.89 L115.50 270.05 L116.93 273.98 L118.37 277.69 L119.80 281.19 L121.23 284.49 L122.66 287.58 L124.10 290.48 L125.53 293.19 L126.96 295.73 L128.39 298.09 L129.83 300.30 L131.26 302.36 L132.69 304.27 L134.12 306.04 L135.56 307.68 L136.99 309.21 L138.42 310.62 L139.85 311.92 L141.29 313.13 L142.72 314.24 L144.15 315.26 L145.58 316.21 L147.02 317.08 L148.45 317.88 L149.88 318.61 L151.31 319.28 L152.75 319.90 L154.18 320.47 L155.61 320.99 L157.04 321.47 L158.48 321.91 L159.91 322.31 L161.34 322.68 L162.77 323.01 L164.21 323.32 L165.64 323.60 L167.07 323.85 L168.50 324.08 L169.94 324.30 L171.37 324.49 L172.80 324.67 L174.23 324.83 L175.67 324.98 L177.10 325.11 L178.53 325.23 L179.96 325.34 L181.40 325.44 L182.83 325.54 L184.26 325.62 L185.69 325.70 L187.12 325.77 L188.56 325.83 L189.99 325.89 L191.42 325.94 L192.85 325.98 L194.29 326.03 L195.72 326.07 L197.15 326.10 L198.58 326.13 L200.02 326.16 L201.45 326.19 L202.88 326.21 L204.31 326.24 L205.75 326.26 L207.18 326.27 L208.61 326.29 L210.04 326.31 L211.48 326.32 L212.91 326.33 L214.34 326.34 L215.77 326.35 L217.21 326.36 L218.64 326.37 L220.07 326.38 L221.50 326.38 L222.94 326.39 L224.37 326.40 L225.80 326.40 L227.23 326.41 L228.67 326.41 L230.10 326.41 L231.53 326.42 L232.96 326.42 L234.40 326.42 L235.83 326.43 L237.26 326.43 L238.69 326.43 L240.13 326.43 L241.56 326.43 L242.99 326.43 L244.42 326.44 L245.86 326.44 L247.29 326.44 L248.72 326.44 L250.15 326.44 L251.59 326.44 L253.02 326.44 L254.45 326.44 L255.88 326.44 L257.32 326.44 L258.75 326.44 L260.18 326.45 L261.61 326.45 L263.05 326.45 L264.48 326.45 L265.91 326.45 L267.34 326.45 L268.78 326.45 L270.21 326.45 L271.64 326.45 L273.07 326.45 L274.51 326.45 L275.94 326.45 L277.37 326.45 L278.80 326.45 L280.24 326.45 L281.67 326.45 L283.10 326.45 L284.53 326.45 L285.97 326.45 L287.40 326.45 L288.83 326.45 L290.26 326.45 L291.70 326.45 L293.13 326.45 L294.56 326.45 L295.99 326.45 L297.43 326.45 L298.86 326.45 L300.29 326.45 L301.72 326.45 L303.16 326.45 L304.59 326.45 L306.02 326.45 L307.45 326.45 L308.88 326.45 L310.32 326.45 L311.75 326.45 L313.18 326.45 L314.61 326.45 L316.05 326.45 L317.48 326.45 L318.91 326.45 L320.34 326.45 L321.78 326.45 L323.21 326.45 L324.64 326.45 L326.07 326.45 L327.51 326.45 L328.94 326.45 L330.37 326.45 L331.80 326.45 L333.24 326.45 L334.67 326.45 L336.10 326.45 L337.53 326.45 L338.97 326.45 L340.40 326.45 L341.83 326.45 L343.26 326.45 L344.70 326.45 L346.13 326.45 L347.56 326.45 L348.99 326.45 L350.43 326.45 L351.86 326.45 L353.29 326.45 L354.72 326.45 L356.16 326.45 L357.59 326.45 L359.02 326.45 L360.45 326.45 L361.89 326.45 L363.32 326.45 L364.75 326.45 L366.18 326.45 L367.62 326.45 L369.05 326.45 L370.48 326.45 L371.91 326.45 L373.35 326.45 L374.78 326.45 L376.21 326.45 L377.64 326.45 L379.08 326.45 L380.51 326.45 L381.94 326.45 L383.37 326.45 L384.81 326.45 L386.24 326.45 L387.67 326.45 L389.10 326.45 L390.54 326.45 L391.97 326.45 L393.40 326.45 L394.83 326.45 L396.27 326.45 L397.70 326.45 L399.13 326.45 L400.56 326.45 L402.00 326.45 L403.43 326.45 L404.86 326.45 L406.29 326.45 L407.73 326.45 L409.16 326.45 L410.59 326.45 L412.02 326.45 L413.46 326.45 L414.89 326.45 L416.32 326.45 L417.75 326.45 L419.19 326.45 L420.62 326.45 L422.05 326.45 L423.48 326.45 L424.92 326.45 L426.35 326.45 L427.78 326.45 L429.21 326.45 L430.64 326.45 L432.08 326.45 L433.51 326.45 L434.94 326.45 L436.37 326.45 L437.81 326.45 L439.24 326.45 L440.67 326.45 L442.10 326.45 L443.54 326.45 L444.97 326.45 L446.40 326.45 L447.83 326.45 L449.27 326.45 L450.70 326.45 L452.13 326.45 L453.56 326.45 L455.00 326.45 L456.43 326.45 L457.86 326.45 L459.29 326.45 L460.73 326.45 L462.16 326.45 L463.59 326.45 L465.02 326.45 L466.46 326.45 L467.89 326.45 L469.32 326.45 L470.75 326.45 L472.19 326.45 L473.62 326.45 L475.05 326.45 L476.48 326.45 L477.92 326.45 L479.35 326.45 L480.78 326.45 L482.21 326.45 L483.65 326.45 L485.08 326.45 L486.51 326.45 L487.94 326.45 L489.38 326.45 L490.81 326.45" stroke="#000000" stroke-width="3.0"/>
<path d="M62.50 76.95 L63.93 77.26 L65.36 78.17 L66.80 79.69 L68.23 81.79 L69.66 84.46 L71.09 87.68 L72.53 91.43 L73.96 95.66 L75.39 100.35 L76.82 105.46 L78.26 110.96 L79.69 116.79 L81.12 122.93 L82.55 129.32 L83.99 135.93 L85.42 142.71 L86.85 149.62 L88.28 156.63 L89.72 163.68 L91.15 170.75 L92.58 177.80 L94.01 184.80 L95.45 191.72 L96.88 198.53 L98.31 205.22 L99.74 211.74 L101.18 218.10 L102.61 224.27 L104.04 230.24 L105.47 236.00 L106.91 241.54 L108.34 246.85 L109.77 251.94 L111.20 256.79 L112.64 261.41 L114.07 265.80 L115.50 269.97 L116.93 273.90 L118.37 277.62 L119.80 281.13 L121.23 284.42 L122.66 287.52 L124.10 290.42 L125.53 293.14 L126.96 295.68 L128.39 298.05 L129.83 300.26 L131.26 302.32 L132.69 304.23 L134.12 306.01 L135.56 307.66 L136.99 309.18 L138.42 310.59 L139.85 311.90 L141.29 313.11 L142.72 314.22 L144.15 315.25 L145.58 316.19 L147.02 317.06 L148.45 317.86 L149.88 318.60 L151.31 319.27 L152.75 319.90 L154.18 320.46 L155.61 320.99 L157.04 321.46 L158.48 321.90 L159.91 322.30 L161.34 322.67 L162.77 323.01 L164.21 323.31 L165.64 323.59 L167.07 323.85 L168.50 324.08 L169.94 324.29 L171.37 324.49 L172.80 324.67 L174.23 324.83 L175.67 324.97 L177.10 325.11 L178.53 325.23 L179.96 325.34 L181.40 325.44 L182.83 325.53 L184.26 325.62 L185.69 325.69 L187.12 325.76 L188.56 325.83 L189.99 325.88 L191.42 325.94 L192.85 325.98 L194.29 326.03 L195.72 326.07 L197.15 326.10 L198.58 326.13 L200.02 326.16 L201.45 326.19 L202.88 326.21 L204.31 326.24 L205.75 326.26 L207.18 326.27 L208.61 326.29 L210.04 326.31 L211.48 326.32 L212.91 326.33 L214.34 326.34 L215.77 326.35 L217.21 326.36 L218.64 326.37 L220.07 326.38 L221.50 326.38 L222.94 326.39 L224.37 326.40 L225.80 326.40 L227.23 326.41 L228.67 326.41 L230.10 326.41 L231.53 326.42 L232.96 326.42 L234.40 326.42 L235.83 326.43 L237.26 326.43 L238.69 326.43 L240.13 326.43 L241.56 326.43 L242.99 326.43 L244.42 326.44 L245.86 326.44 L247.29 326.44 L248.72 326.44 L250.15 326.44 L251.59 326.44 L253.02 326.44 L254.45 326.44 L255.88 326.44 L257.32 326.44 L258.75 326.44 L260.18 326.45 L261.61 326.45 L263.05 326.45 L264.48 326.45 L265.91 326.45 L267.34 326.45 L268.78 326.45 L270.21 326.45 L271.64 326.45 L273.07 326.45 L274.51 326.45 L275.94 326.45 L277.37 326.45 L278.80 326.45 L280.24 326.45 L281.67 326.45 L283.10 326.45 L284.53 326.45 L285.97 326.45 L287.40 326.45 L288.83 326.45 L290.26 326.45 L291.70 326.45 L293.13 326.45 L294.56 326.45 L295.99 326.45 L297.43 326.45 L298.86 326.45 L300.29 326.45 L301.72 326.45 L303.16 326.45 L304.59 326.45 L306.02 326.45 L307.45 326.45 L308.88 326.45 L310.32 326.45 L311.75 326.45 L313.18 326.45 L314.61 326.45 L316.05 326.45 L317.48 326.45 L318.91 326.45 L320.34 326.45 L321.78 326.45 L323.21 326.45 L324.64 326.45 L326.07 326.45 L327.51 326.45 L328.94 326.45 L330.37 326.45 L331.80 326.45 L333.24 326.45 L334.67 326.45 L336.10 326.45 L337.53 326.45 L338.97 326.45 L340.40 326.45 L341.83 326.45 L343.26 326.45 L344.70 326.45 L346.13 326.45 L347.56 326.45 L348.99 326.45 L350.43 326.45 L351.86 326.45 L353.29 326.45 L354.72 326.45 L356.16 326.45 L357.59 326.45 L359.02 326.45 L360.45 326.45 L361.89 326.45 L363.32 326.45 L364.75 326.45 L366.18 326.45 L367.62 326.45 L369.05 326.45 L370.48 326.45 L371.91 326.45 L373.35 326.45 L374.78 326.45 L376.21 326.45 L377.64 326.45 L379.08 326.45 L380.51 326.45 L381.94 326.45 L383.37 326.45 L384.81 326.45 L386.24 326.45 L387.67 326.45 L389.10 326.45 L390.54 326.45 L391.97 326.45 L393.40 326.45 L394.83 326.45 L396.27 326.45 L397.70 326.45 L399.13 326.45 L400.56 326.45 L402.00 326.45 L403.43 326.45 L404.86 326.45 L406.29 326.45 L407.73 326.45 L409.16 326.45 L410.59 326.45 L412.02 326.45 L413.46 326.45 L414.89 326.45 L416.32 326.45 L417.75 326.45 L419.19 326.45 L420.62 326.45 L422.05 326.45 L423.48 326.45 L424.92 326.45 L426.35 326.45 L427.78 326.45 L429.21 326.45 L430.64 326.45 L432.08 326.45 L433.51 326.45 L434.94 326.45 L436.37 326.45 L437.81 326.45 L439.24 326.45 L440.67 326.45 L442.10 326.45 L443.54 326.45 L444.97 326.45 L446.40 326.45 L447.83 326.45 L449.27 326.45 L450.70 326.45 L452.13 326.45 L453.56 326.45 L455.00 326.45 L456.43 326.45 L457.86 326.45 L459.29 326.45 L460.73 326.45 L462.16 326.45 L463.59 326.45 L465.02 326.45 L466.46 326.45 L467.89 326.45 L469.32 326.45 L470.75 326.45 L472.19 326.45 L473.62 326.45 L475.05 326.45 L476.48 326.45 L477.92 326.45 L479.35 326.45 L480.78 326.45 L482.21 326.45 L483.65 326.45 L485.08 326.45 L486.51 326.45 L487.94 326.45 L489.38 326.45 L490.81 326.45" stroke="#000000" stroke-width="2.1" stroke-dasharray="5.2 2.2 2.6 2.295" stroke-dashoffset="6.5"/>
</g>
<g stroke="#000" stroke-opacity="0.71" stroke-width="1" fill="none">
<line x1="62.50" y1="64.10" x2="62.50" y2="331.50"/>
<line x1="62.50" y1="326.45" x2="496.90" y2="326.45"/>
</g>
<g stroke="#000" stroke-opacity="0.71" stroke-width="0.75" fill="none">
<line x1="62.50" y1="326.45" x2="66.30" y2="326.45"/>
<line x1="62.50" y1="313.97" x2="64.90" y2="313.97"/>
<line x1="62.50" y1="301.50" x2="64.90" y2="301.50"/>
<line x1="62.50" y1="289.02" x2="64.90" y2="289.02"/>
<line x1="62.50" y1="276.55" x2="66.30" y2="276.55"/>
<line x1="62.50" y1="264.07" x2="64.90" y2="264.07"/>
<line x1="62.50" y1="251.60" x2="64.90" y2="251.60"/>
<line x1="62.50" y1="239.12" x2="64.90" y2="239.12"/>
<line x1="62.50" y1="226.65" x2="66.30" y2="226.65"/>
<line x1="62.50" y1="214.17" x2="64.90" y2="214.17"/>
<line x1="62.50" y1="201.70" x2="64.90" y2="201.70"/>
<line x1="62.50" y1="189.22" x2="64.90" y2="189.22"/>
<line x1="62.50" y1="176.75" x2="66.30" y2="176.75"/>
<line x1="62.50" y1="164.27" x2="64.90" y2="164.27"/>
<line x1="62.50" y1="151.80" x2="64.90" y2="151.80"/>
<line x1="62.50" y1="139.32" x2="64.90" y2="139.32"/>
<line x1="62.50" y1="126.85" x2="66.30" y2="126.85"/>
<line x1="62.50" y1="114.37" x2="64.90" y2="114.37"/>
<line x1="62.50" y1="101.90" x2="64.90" y2="101.90"/>
<line x1="62.50" y1="89.42" x2="64.90" y2="89.42"/>
<line x1="62.50" y1="76.95" x2="66.30" y2="76.95"/>
<line x1="62.50" y1="64.47" x2="64.90" y2="64.47"/>
<line x1="76.97" y1="326.45" x2="76.97" y2="324.05"/>
<line x1="91.43" y1="326.45" x2="91.43" y2="324.05"/>
<line x1="105.90" y1="326.45" x2="105.90" y2="324.05"/>
<line x1="120.36" y1="326.45" x2="120.36" y2="322.65"/>
<line x1="134.82" y1="326.45" x2="134.82" y2="324.05"/>
<line x1="149.29" y1="326.45" x2="149.29" y2="324.05"/>
<line x1="163.75" y1="326.45" x2="163.75" y2="324.05"/>
<line x1="178.22" y1="326.45" x2="178.22" y2="322.65"/>
<line x1="192.69" y1="326.45" x2="192.69" y2="324.05"/>
<line x1="207.15" y1="326.45" x2="207.15" y2="324.05"/>
<line x1="221.62" y1="326.45" x2="221.62" y2="324.05"/>
<line x1="236.08" y1="326.45" x2="236.08" y2="322.65"/>
<line x1="250.55" y1="326.45" x2="250.55" y2="324.05"/>
<line x1="265.01" y1="326.45" x2="265.01" y2="324.05"/>
<line x1="279.48" y1="326.45" x2="279.48" y2="324.05"/>
<line x1="293.94" y1="326.45" x2="293.94" y2="322.65"/>
<line x1="308.41" y1="326.45" x2="308.41" y2="324.05"/>
<line x1="322.87" y1="326.45" x2="322.87" y2="324.05"/>
<line x1="337.34" y1="326.45" x2="337.34" y2="324.05"/>
<line x1="351.80" y1="326.45" x2="351.80" y2="322.65"/>
<line x1="366.27" y1="326.45" x2="366.27" y2="324.05"/>
<line x1="380.73" y1="326.45" x2="380.73" y2="324.05"/>
<line x1="395.20" y1="326.45" x2="395.20" y2="324.05"/>
<line x1="409.66" y1="326.45" x2="409.66" y2="322.65"/>
<line x1="424.12" y1="326.45" x2="424.12" y2="324.05"/>
<line x1="438.59" y1="326.45" x2="438.59" y2="324.05"/>
<line x1="453.06" y1="326.45" x2="453.06" y2="324.05"/>
<line x1="467.52" y1="326.45" x2="467.52" y2="322.65"/>
<line x1="481.99" y1="326.45" x2="481.99" y2="324.05"/>
<line x1="496.45" y1="326.45" x2="496.45" y2="324.05"/>
</g>
<g fill="none" stroke-linecap="butt">
<line x1="77.9" y1="375.3" x2="116.2" y2="375.3" stroke="#000" stroke-width="2.0" stroke-dasharray="7.6 4.0"/>
<line x1="238.6" y1="375.3" x2="276.5" y2="375.3" stroke="#0000ff" stroke-width="3.0"/>
<line x1="356.8" y1="375.3" x2="394.8" y2="375.3" stroke="#ff0000" stroke-width="3.0"/>
<line x1="78.1" y1="403.45" x2="116.2" y2="403.45" stroke="#00a600" stroke-width="3.0"/>
<line x1="179.5" y1="403.45" x2="217.4" y2="403.45" stroke="#ff00ff" stroke-width="3.0"/>
<line x1="281.2" y1="403.45" x2="318.7" y2="403.45" stroke="#000" stroke-width="3.0"/>
</g>
<g font-family="Liberation Sans, sans-serif" font-weight="bold" fill="#000" stroke="#000" stroke-width="0.3" stroke-linejoin="round">
<rect x="301.40" y="370.25" width="10.51" height="2.47"/>
<rect x="301.40" y="374.57" width="10.51" height="2.47"/>
<rect x="419.10" y="370.25" width="10.51" height="2.47"/>
<rect x="419.10" y="374.57" width="10.51" height="2.47"/>
<rect x="140.80" y="398.35" width="10.51" height="2.47"/>
<rect x="140.80" y="402.67" width="10.51" height="2.47"/>
<rect x="242.10" y="398.35" width="10.51" height="2.47"/>
<rect x="242.10" y="402.67" width="10.51" height="2.47"/>
<rect x="343.90" y="398.35" width="10.51" height="2.47"/>
<rect x="343.90" y="402.67" width="10.51" height="2.47"/>
<rect x="230.50" y="15.42" width="12.24" height="2.88"/>
<rect x="230.50" y="20.46" width="12.24" height="2.88"/>
<rect x="316.20" y="15.42" width="12.24" height="2.88"/>
<rect x="316.20" y="20.46" width="12.24" height="2.88"/>
<polygon points="92.4,52.8 94.5,52.8 97.8,38.1 95.7,38.1"/>
<path d="M260.65 25.50 L257.35 25.50 L257.35 13.09 Q255.55 14.78 253.10 15.59 L253.10 12.60 Q254.39 12.18 255.90 11.00 Q257.41 9.82 257.97 8.25 L260.65 8.25 Z"/>
<path d="M38.77 84.35 L35.95 84.35 L35.95 73.70 Q34.40 75.15 32.30 75.84 L32.30 73.28 Q33.40 72.91 34.70 71.90 Q36.00 70.89 36.48 69.54 L38.77 69.54 Z"/>
<path d="M345.59 349.00 L342.76 349.00 L342.76 338.35 Q341.21 339.80 339.11 340.49 L339.11 337.93 Q340.22 337.56 341.52 336.55 Q342.81 335.54 343.30 334.19 L345.59 334.19 Z"/>
<path d="M403.45 349.00 L400.62 349.00 L400.62 338.35 Q399.07 339.80 396.97 340.49 L396.97 337.93 Q398.08 337.56 399.38 336.55 Q400.67 335.54 401.16 334.19 L403.45 334.19 Z"/>
<path d="M461.31 349.00 L458.48 349.00 L458.48 338.35 Q456.93 339.80 454.83 340.49 L454.83 337.93 Q455.94 337.56 457.24 336.55 Q458.53 335.54 459.02 334.19 L461.31 334.19 Z"/>
<path d="M343.49 378.90 L340.66 378.90 L340.66 368.25 Q339.11 369.70 337.01 370.39 L337.01 367.83 Q338.12 367.46 339.41 366.45 Q340.71 365.44 341.19 364.09 L343.49 364.09 Z"/>
<path d="M165.71 407.00 L162.88 407.00 L162.88 396.35 Q161.33 397.80 159.23 398.49 L159.23 395.93 Q160.34 395.56 161.63 394.55 Q162.93 393.54 163.41 392.19 L165.71 392.19 Z"/>
<text x="207.8" y="25.5" font-size="24" font-style="italic">β</text>
<text x="265.62" y="25.5" font-size="24">,</text>
<text x="285.85" y="25.5" font-size="24">m</text>
<text x="336.48" y="25.5" font-size="24">0</text>
<text x="0.4" y="52.6" font-size="20.6" font-style="italic">E</text>
<text x="15.43" y="42.9" font-size="14.0" letter-spacing="0.3"><tspan font-style="italic">F</tspan>,QFT/RKT</text>
<text x="14.07" y="57.0" font-size="14.0" letter-spacing="0.3">adS</text>
<text x="98.6" y="52.7" font-size="20.6" font-style="italic">E</text>
<text x="113.65" y="43.8" font-size="14.0" font-style="italic" letter-spacing="0.3">F</text>
<text x="112.67" y="56.6" font-size="14.0" font-style="italic" letter-spacing="0.3">M</text>
<text x="59.3" y="333.85" font-size="20.6" text-anchor="end">0.0</text>
<text x="59.3" y="283.95" font-size="20.6" text-anchor="end">0.2</text>
<text x="59.3" y="234.05" font-size="20.6" text-anchor="end">0.4</text>
<text x="59.3" y="184.15" font-size="20.6" text-anchor="end">0.6</text>
<text x="59.3" y="134.25" font-size="20.6" text-anchor="end">0.8</text>
<text x="42.12" y="84.35" font-size="20.6" text-anchor="start">.0</text>
<text x="120.36" y="349.0" font-size="20.6" text-anchor="middle">0.2</text>
<text x="178.22" y="349.0" font-size="20.6" text-anchor="middle">0.4</text>
<text x="236.08" y="349.0" font-size="20.6" text-anchor="middle">0.6</text>
<text x="293.94" y="349.0" font-size="20.6" text-anchor="middle">0.8</text>
<text x="348.94" y="349.0" font-size="20.6" text-anchor="start">.0</text>
<text x="406.8" y="349.0" font-size="20.6" text-anchor="start">.2</text>
<text x="464.66" y="349.0" font-size="20.6" text-anchor="start">.4</text>
<text x="504.88" y="333.7" font-size="20.6" font-style="italic">μ</text>
<text x="516.83" y="336.9" font-size="14.0" letter-spacing="0.3">adS</text>
<text x="122.93" y="378.9" font-size="20.6">Minkowski</text>
<text x="283.3" y="378.9" font-size="20.6">a</text>
<text x="318.2" y="378.9" font-size="20.6" text-anchor="start">0.</text>
<text x="401.0" y="378.9" font-size="20.6">a</text>
<text x="435.9" y="378.9" font-size="20.6" text-anchor="start">0.5</text>
<text x="122.7" y="407.0" font-size="20.6">a</text>
<text x="224.0" y="407.0" font-size="20.6">a</text>
<text x="258.9" y="407.0" font-size="20.6" text-anchor="start">2</text>
<text x="325.8" y="407.0" font-size="20.6">a</text>
<text x="360.7" y="407.0" font-size="20.6" text-anchor="start">5</text>
</g>
</svg>
</body></html>
